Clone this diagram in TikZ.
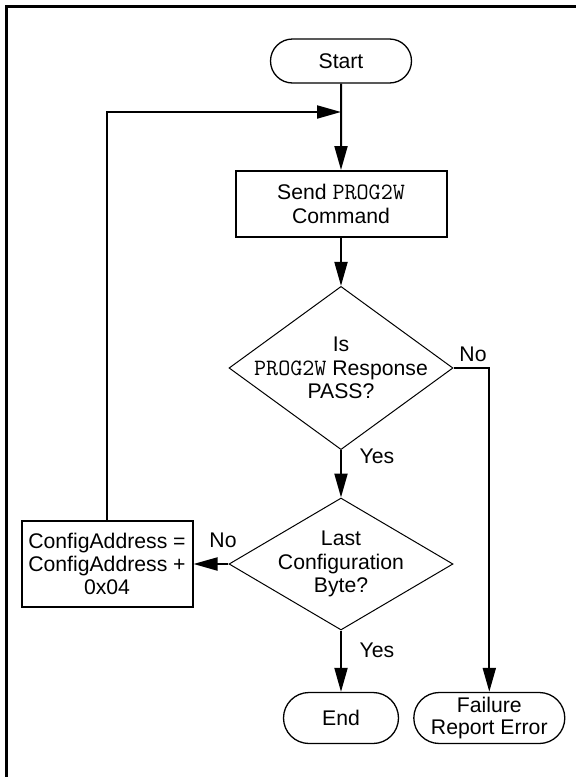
\documentclass[tikz,border=0pt]{standalone}
\usepackage{fontspec}
\setmainfont{Liberation Sans}
\usetikzlibrary{shapes.geometric, shapes.misc, arrows.meta, positioning}
\newcommand{\cmdname}[1]{{\fontsize{11.7}{11.7}\selectfont\ttfamily #1}}

\begin{document}
\begin{tikzpicture}[
    x=0.5pt, y=-0.5pt,
    font=\fontsize{10.6}{11.7}\selectfont,
    node distance=7pt and 7pt,
    term/.style={rounded rectangle, draw, line width=0.65pt, minimum height=22pt, align=center, inner sep=0pt},
    box/.style={rectangle, draw, line width=1pt, align=center, inner sep=0pt},
    decision/.style={diamond, draw, line width=0.5pt, minimum width=112pt, minimum height=66pt, inner sep=-9pt, align=center},
    arrow/.style={-{Triangle[length=12pt, width=6.5pt]}, line width=1pt},
    frame/.style={line width=1.3pt}
]
\useasboundingbox (0,0) rectangle (576,777);

% open frame (top and left edges only)
\coordinate (frametr) at (580,6.5);
\coordinate (frametl) at (6.5,6.5);
\coordinate (framebl) at (6.5,780);
\draw[frame] (frametr) -- (frametl) -- (framebl);

% main column
\node[term, minimum width=70.5pt] (start) at (341,61) {Start};
\coordinate (join) at (341,112);
\node[box, minimum width=105.5pt, minimum height=33pt] (send) at (341,204) {Send \cmdname{PROG2W}\\Command};
\node[decision] (pass) at (341,368) {Is\\\cmdname{PROG2W} Response\\PASS?};
\node[decision] (last) at (341,564) {Last\\Configuration\\Byte?};
\node[term, minimum width=57.5pt, minimum height=25.5pt] (end) at (341,718) {End};
\node[term, minimum width=75.5pt, minimum height=25.5pt, right=7pt of end] (fail) {Failure\\[-1pt]Report Error};
\node[box, minimum width=85.5pt, minimum height=43pt, left=17.5pt of last] (incr) {ConfigAddress =\\ConfigAddress +\\0x04};

% branch labels
\node (no1) at (473,354) {No};
\node (yes1) at (377,456) {Yes};
\node (no2) at (223,540) {No};
\node (yes2) at (377,650) {Yes};

\draw[arrow] (start) -- (send);
\draw[arrow] (send) -- (pass);
\draw[arrow] (pass) -- (last);
\draw[arrow] (last) -- (end);
\draw[arrow] (last) -- (incr);
\draw[arrow] (pass.east) -| (fail);
\draw[arrow] (incr) |- (join);

\end{tikzpicture}
\end{document}
